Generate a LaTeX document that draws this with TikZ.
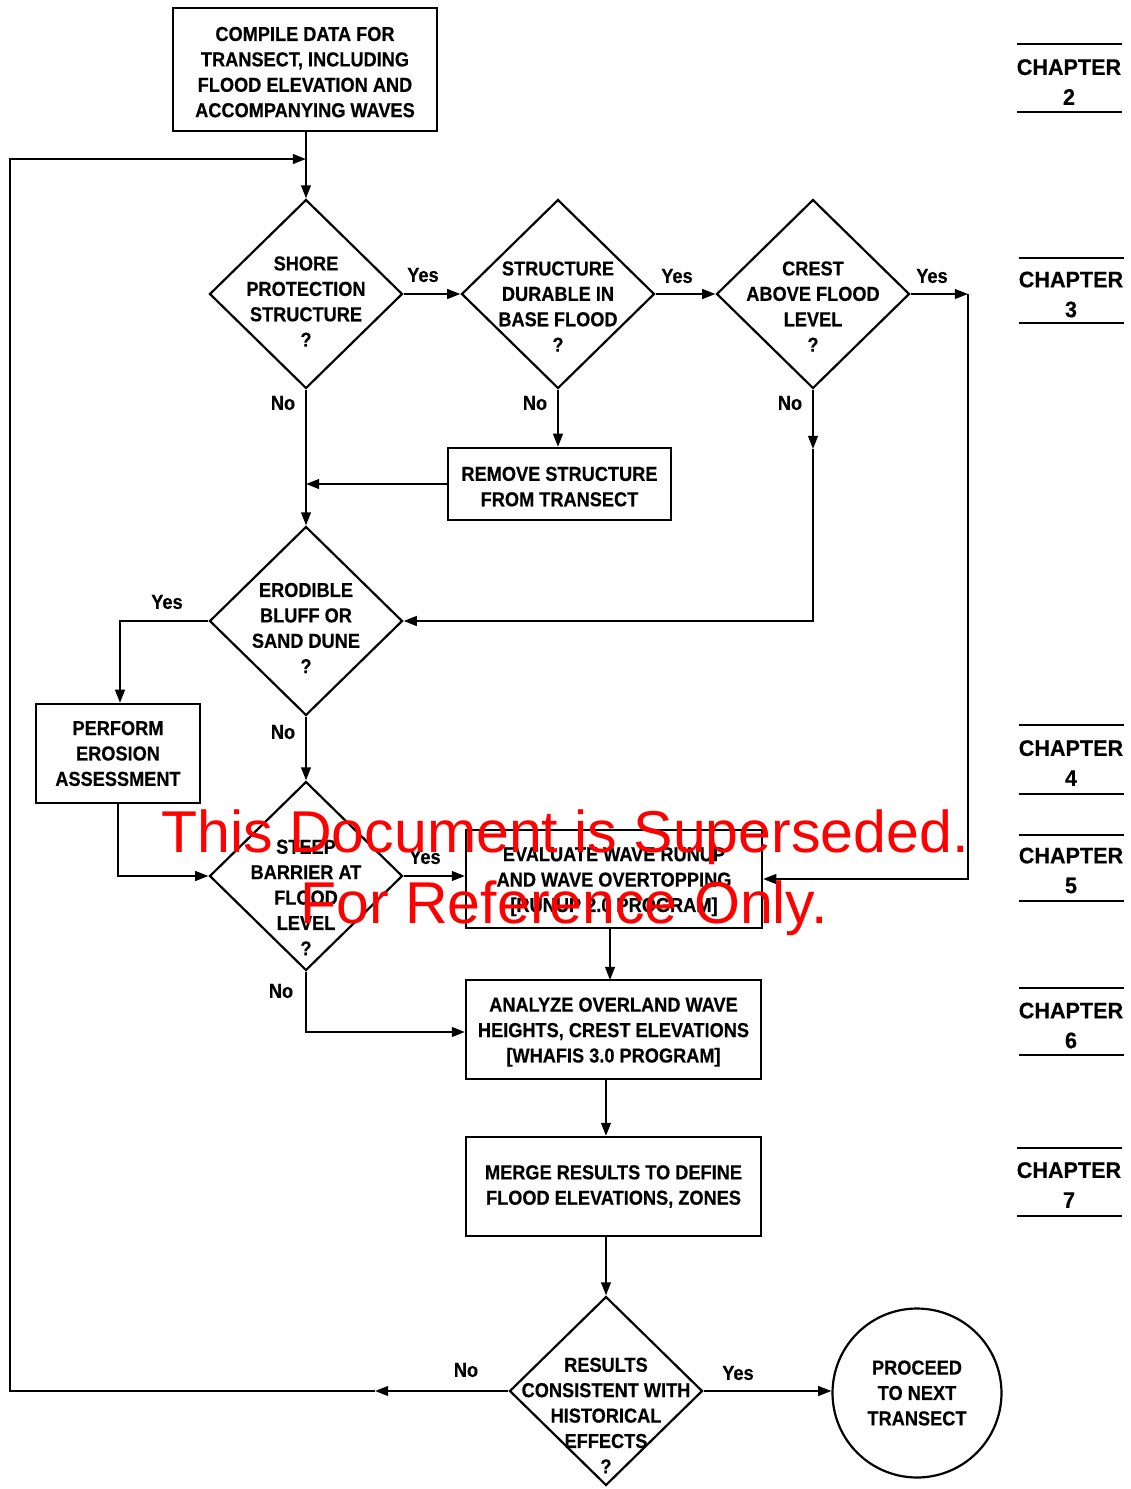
\documentclass[tikz,border=0pt]{standalone}
\usepackage{fontspec}
\newfontfamily\lab[FakeStretch=0.9,FakeBold=0.4]{Liberation Sans}
\newfontfamily\chapf[FakeStretch=0.96,FakeBold=0.4]{Liberation Sans}
\newfontfamily\wmf{Liberation Sans}
\newcommand\fst{\rule{0pt}{11pt}}
\usetikzlibrary{arrows.meta,shapes.geometric}
\tikzset{
  lbl/.style={font=\lab\bfseries\fontsize{11.5}{14.46}\selectfont, align=center, inner sep=0pt},
  box/.style={draw, line width=1.25pt, lbl},
  dia/.style={draw, diamond, line width=1.25pt, minimum width=3.86cm, minimum height=3.78cm, inner sep=0pt},
  arr/.style={line width=1.25pt, -{Triangle[length=7.5pt,width=5.5pt]}},
  yn/.style={font=\lab\bfseries\fontsize{11.5}{14}\selectfont, inner sep=0pt},
  chap/.style={font=\chapf\bfseries\fontsize{12.8}{17}\selectfont, align=center, inner sep=0pt},
  chapline/.style={line width=1.3pt},
  wm/.style={font=\wmf\fontsize{33.6}{40}\selectfont, text=red, inner sep=0pt, anchor=base}
}
\begin{document}
\begin{tikzpicture}[x=0.02cm,y=-0.02cm]
\useasboundingbox[fill=white] (0,0) rectangle (1131,1489);

% boxes
\node[box, minimum width=5.28cm, minimum height=2.46cm] (cp) at (305,69.5)
  {\fst COMPILE DATA FOR\\TRANSECT, INCLUDING\\FLOOD ELEVATION AND\\ACCOMPANYING WAVES};
\node[box, minimum width=4.46cm, minimum height=1.44cm] (rm) at (559.5,484)
  {\fst REMOVE STRUCTURE\\FROM TRANSECT};
\node[box, minimum width=3.28cm, minimum height=1.98cm] (er) at (118,753.5)
  {PERFORM\\EROSION\\ASSESSMENT};
\node[box, minimum width=5.92cm, minimum height=1.96cm] (ev) at (614,879)
  {\fst EVALUATE WAVE RUNUP\\AND WAVE OVERTOPPING\\{[RUNUP 2.0 PROGRAM]}};
\node[box, minimum width=5.9cm, minimum height=1.98cm] (an) at (613.5,1029.5)
  {\fst ANALYZE OVERLAND WAVE\\HEIGHTS, CREST ELEVATIONS\\{[WHAFIS 3.0 PROGRAM]}};
\node[box, minimum width=5.9cm, minimum height=1.98cm] (me) at (613.5,1186.5)
  {MERGE RESULTS TO DEFINE\\FLOOD ELEVATIONS, ZONES};
\node[box, circle, minimum size=3.38cm] (pr) at (917,1393)
  {PROCEED\\TO NEXT\\TRANSECT};

% diamonds
\node[dia] (d1) at (306,294) {};
\node[dia] (d2) at (558,294) {};
\node[dia] (d3) at (813,294) {};
\node[dia] (d4) at (306,621) {};
\node[dia] (d5) at (306,876) {};
\node[dia] (d6) at (606,1391) {};
\node[lbl] (t1) at (306,301.5) {SHORE\\PROTECTION\\STRUCTURE\\?};
\node[lbl] (t2) at (558,306.5) {STRUCTURE\\DURABLE IN\\BASE FLOOD\\?};
\node[lbl] (t3) at (813,306.5) {CREST\\ABOVE FLOOD\\LEVEL\\?};
\node[lbl] (t4) at (306,628) {ERODIBLE\\BLUFF OR\\SAND DUNE\\?};
\node[lbl] (t5) at (306,897.5) {STEEP\\BARRIER AT\\FLOOD\\LEVEL\\?};
\node[lbl] (t6) at (606,1415.5) {RESULTS\\CONSISTENT WITH\\HISTORICAL\\EFFECTS\\?};

% helper coordinates
\coordinate (jn) at (306,159);
\coordinate (lt) at (10,159);
\coordinate (lb) at (10,1391);
\coordinate (c6a) at (375,1391);
\coordinate (c3a) at (813,449);
\coordinate (c3b) at (813,621);
\coordinate (c3y) at (968,294);
\coordinate (evb) at (610,928);
\coordinate (ant) at (610,980);

% connectors
\draw[arr] (cp.south -| d1.north) -- (d1.north);
\draw[arr] (d1.east) -- (d2.west);
\draw[arr] (d2.east) -- (d3.west);
\draw[arr] (d3.east) -- (c3y);
\draw[arr] (c3y) |- (ev.east);
\draw[arr] (d2.south) -- (rm.north -| d2.south);
\draw[arr] (rm.west) -- (rm.west -| d1.south);
\draw[arr] (d1.south) -- (d4.north);
\draw[arr] (d3.south) -- (c3a);
\draw[arr] (c3a) -- (c3b) -- (d4.east);
\draw[arr] (d4.west) -| (er.north -| 120,0);
\draw[arr] (er.south) |- (d5.west);
\draw[arr] (d4.south) -- (d5.north);
\draw[arr] (d5.east) -- (d5.east -| ev.west);
\draw[arr] (d5.south) |- (an.west |- 0,1032);
\draw[arr] (evb) -- (ant);
\draw[arr] (an.south -| d6.north) -- (me.north -| d6.north);
\draw[arr] (me.south -| d6.north) -- (d6.north);
\draw[arr] (d6.east) -- (d6.east -| pr.west);
\draw[arr] (d6.west) -- (c6a);
\draw[arr] (c6a) -- (lb) -- (lt) -- (jn);

% yes / no labels
\node[yn] (y1) at (423,275) {Yes};
\node[yn] (y2) at (677,276) {Yes};
\node[yn] (y3) at (932,276) {Yes};
\node[yn] (y4) at (167,602) {Yes};
\node[yn] (y5) at (425,857) {Yes};
\node[yn] (y6) at (738,1373) {Yes};
\node[yn] (n1) at (283,403) {No};
\node[yn] (n2) at (535,403) {No};
\node[yn] (n3) at (790,403) {No};
\node[yn] (n4) at (283,732) {No};
\node[yn] (n5) at (281,991) {No};
\node[yn] (n6) at (466,1370) {No};

% chapter labels
\node[chap] (ch2) at (1069,82) {CHAPTER\\2};
\draw[chapline] (1017,44) -- (1122,44) (1017,112) -- (1122,112);
\node[chap] (ch3) at (1071,294.5) {CHAPTER\\3};
\draw[chapline] (1019,258) -- (1124,258) (1019,323) -- (1124,323);
\node[chap] (ch4) at (1071,763) {CHAPTER\\4};
\draw[chapline] (1019,725) -- (1124,725) (1019,794) -- (1124,794);
\node[chap] (ch5) at (1071,870.5) {CHAPTER\\5};
\draw[chapline] (1019,835) -- (1124,835) (1019,901) -- (1124,901);
\node[chap] (ch6) at (1071,1025.5) {CHAPTER\\6};
\draw[chapline] (1019,988) -- (1124,988) (1019,1055) -- (1124,1055);
\node[chap] (ch7) at (1069,1185) {CHAPTER\\7};
\draw[chapline] (1017,1148) -- (1122,1148) (1017,1216) -- (1122,1216);

% watermark
\node[wm] (wm1) at (565,852) {This Document is Superseded.};
\node[wm] (wm2) at (564,923) {For Reference Only.};
\end{tikzpicture}
\end{document}
